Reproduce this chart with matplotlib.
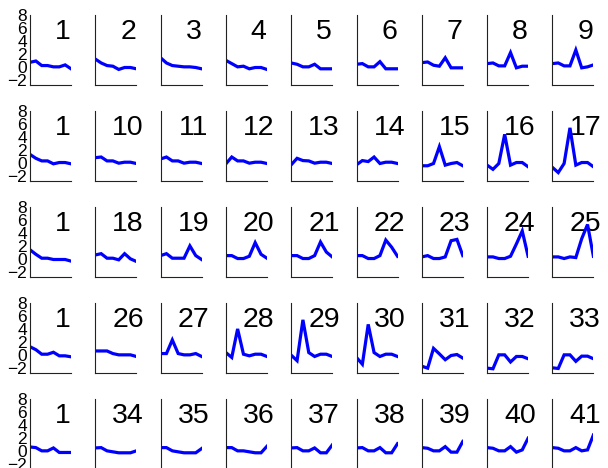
import matplotlib.pyplot as plt

# panel numbers, one list per row
row_labels = [
    ['1', '2', '3', '4', '5', '6', '7', '8', '9'],
    ['1', '10', '11', '12', '13', '14', '15', '16', '17'],
    ['1', '18', '19', '20', '21', '22', '23', '24', '25'],
    ['1', '26', '27', '28', '29', '30', '31', '32', '33'],
    ['1', '34', '35', '36', '37', '38', '39', '40', '41'],
]

# 8 samples per panel
row1 = [
    [0.7, 0.9, 0.2, 0.2, 0.0, 0.0, 0.3, -0.3],
    [1.2, 0.6, 0.2, 0.1, -0.4, -0.1, -0.1, -0.3],
    [1.4, 0.6, 0.2, 0.1, 0.0, 0.0, -0.1, -0.3],
    [1.0, 0.5, 0.0, 0.1, -0.3, -0.1, -0.1, -0.4],
    [0.6, 0.4, 0.0, 0.0, 0.4, -0.3, -0.3, -0.3],
    [0.4, 0.5, 0.0, 0.0, 0.8, -0.3, -0.3, -0.3],
    [0.65, 0.75, 0.25, 0.1, 1.4, -0.15, -0.15, -0.15],
    [0.5, 0.6, 0.15, 0.15, 2.2, -0.15, 0.1, 0.1],
    [0.5, 0.6, 0.15, 0.15, 2.6, -0.15, 0.0, 0.3],
]
row2 = [
    [1.3, 0.7, 0.3, 0.3, -0.15, 0.05, 0.05, -0.15],
    [0.8, 0.9, 0.3, 0.3, -0.05, 0.1, 0.1, -0.1],
    [0.6, 0.9, 0.3, 0.3, -0.05, 0.1, 0.1, -0.1],
    [-0.15, 0.9, 0.3, 0.3, -0.05, 0.1, 0.1, -0.1],
    [-0.3, 0.7, 0.35, 0.3, -0.05, 0.1, 0.1, -0.1],
    [-0.3, 0.35, 0.2, 0.9, -0.1, 0.1, 0.1, -0.1],
    [-0.45, -0.45, -0.1, 2.5, -0.35, -0.1, 0.05, -0.45],
    [-0.35, -1.0, -0.1, 4.4, -0.35, 0.05, 0.05, -0.6],
    [-0.7, -1.5, -0.1, 5.4, -0.35, 0.05, 0.05, -0.6],
]
row3 = [
    [1.4, 0.7, 0.1, 0.1, -0.1, -0.1, -0.1, -0.35],
    [0.6, 0.8, 0.1, 0.1, -0.15, 0.8, 0.0, -0.4],
    [0.5, 0.8, 0.1, 0.1, 0.1, 2.0, 0.5, -0.1],
    [0.5, 0.5, 0.05, 0.05, 0.4, 2.5, 0.7, 0.1],
    [0.5, 0.5, 0.05, 0.05, 0.5, 2.6, 1.05, 0.3],
    [0.5, 0.5, 0.05, 0.05, 0.5, 2.9, 1.8, 0.4],
    [0.3, 0.5, 0.05, 0.05, 0.3, 2.8, 3.0, 0.5],
    [0.3, 0.3, 0.05, 0.05, 0.4, 2.3, 4.3, 0.4],
    [0.3, 0.3, 0.05, 0.3, 0.2, 3.1, 5.3, 0.4],
]
row4 = [
    [1.25, 0.8, 0.1, 0.1, 0.4, -0.15, -0.15, -0.3],
    [0.6, 0.6, 0.6, 0.2, 0.0, 0.0, 0.0, -0.25],
    [0.2, 0.2, 2.3, 0.2, 0.0, 0.0, 0.2, -0.25],
    [0.35, -0.4, 4.0, 0.1, -0.15, 0.1, 0.1, -0.25],
    [-0.05, -0.9, 5.4, 0.35, -0.25, 0.1, 0.1, -0.25],
    [-0.4, -1.45, 4.7, 0.35, -0.25, 0.1, 0.1, -0.25],
    [-1.75, -2.05, 1.0, 0.15, -0.75, -0.1, 0.05, -0.5],
    [-2.05, -2.15, 0.0, 0.0, -1.1, -0.25, -0.25, -0.6],
    [-2.0, -2.1, 0.0, 0.0, -1.0, -0.2, -0.2, -0.6],
]
row5 = [
    [0.6, 0.5, 0.0, 0.0, 0.45, -0.25, -0.25, -0.25],
    [0.45, 0.5, 0.0, -0.15, -0.3, -0.3, -0.3, 0.0],
    [0.5, 0.5, 0.0, -0.15, -0.3, -0.3, -0.3, 0.35],
    [0.5, 0.5, 0.0, 0.0, -0.15, -0.3, -0.3, 0.7],
    [0.45, 0.5, 0.0, 0.0, 0.45, -0.3, -0.3, 0.9],
    [0.45, 0.5, 0.0, 0.0, 0.5, -0.3, -0.3, 1.1],
    [0.5, 0.4, 0.0, 0.0, 0.65, -0.2, -0.2, 1.45],
    [0.5, 0.4, 0.0, 0.0, 0.65, -0.2, 0.15, 1.95],
    [0.5, 0.4, 0.0, 0.0, 0.5, 0.0, 0.15, 2.45],
]
rows = [row1, row2, row3, row4, row5]

x = list(range(8))
yticks = [-2, 0, 2, 4, 6, 8]

W, H = 608, 468
fig = plt.figure(figsize=(W / 100, H / 100), dpi=100)
plt.rcParams['font.family'] = ['Liberation Sans', 'DejaVu Sans']

for r in range(5):
    top = 15 + r * 96
    for c in range(9):
        left = 30 + c * 65.3
        ax = fig.add_axes([left / W, 1 - (top + 70) / H, 41 / W, 70 / H])
        ax.plot(x, rows[r][c], color='#0000ff', lw=2.3, zorder=2,
                solid_joinstyle='miter')
        ax.set_xlim(0, 7)
        ax.set_ylim(-2.8, 8)
        ax.spines['top'].set_visible(False)
        ax.spines['right'].set_visible(False)
        for s in ('left', 'bottom'):
            ax.spines[s].set_linewidth(0.8)
            ax.spines[s].set_color('#222222')
        ax.set_xticks([])
        ax.set_yticks(yticks)
        ax.tick_params(axis='y', length=0, pad=2, labelsize=12.5)
        if c != 0:
            ax.set_yticklabels([])
        ax.text(0.8, 0.94, row_labels[r][c], transform=ax.transAxes,
                ha='center', va='top', fontsize=20.5, zorder=1)

fig.savefig('out.png', dpi=100)
